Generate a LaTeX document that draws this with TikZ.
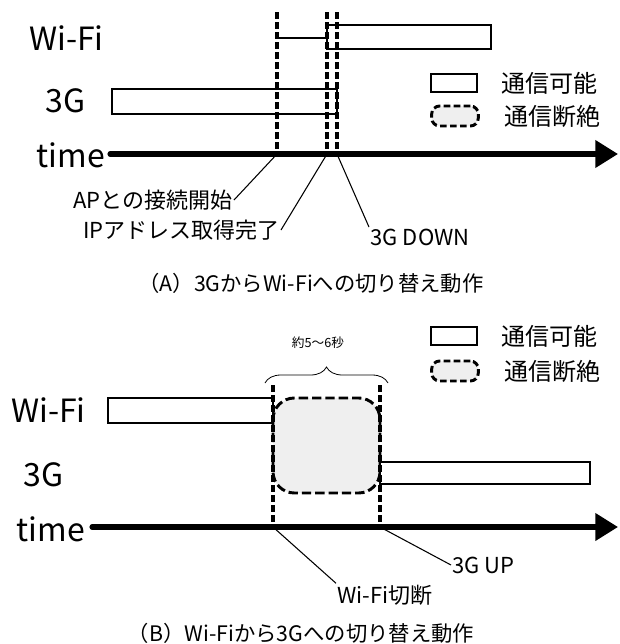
\documentclass[tikz,border=0pt]{standalone}
\usepackage{fontspec}
\setmainfont{Noto Sans CJK JP}
\usetikzlibrary{arrows.meta, positioning, calc, decorations.pathreplacing}
\definecolor{lossgray}{HTML}{EFEFEF}
\tikzset{
    onbar/.style={draw=black, line width=1.4pt, fill=white},
    offbar/.style={draw=black, line width=2.2pt, dash pattern=on 7pt off 3pt, fill=lossgray, rounded corners=16pt},
    eventline/.style={draw=black, line width=2.4pt, dash pattern=on 5pt off 2.5pt},
    timeaxis/.style={line width=3.8pt, line cap=round, -{Triangle[length=17pt, width=20pt]}},
    leader/.style={draw=black, line width=0.8pt},
    rowlabel/.style={inner sep=0pt, font=\fontsize{24}{28}\selectfont},
    keylabel/.style={inner sep=0pt, font=\fontsize{18}{21}\selectfont},
    eventlabel/.style={inner sep=1pt, font=\fontsize{16.5}{19}\selectfont},
    caption/.style={inner sep=0pt, font=\fontsize{16}{19}\selectfont},
    keyon/.style={rectangle, draw=black, line width=1.4pt, minimum width=34pt, minimum height=14pt, inner sep=0pt},
    keyoff/.style={rectangle, draw=black, line width=2.2pt, dash pattern=on 5pt off 2.5pt, fill=lossgray, rounded corners=6pt, minimum width=35pt, minimum height=15pt, inner sep=0pt}
}

\begin{document}
\begin{tikzpicture}[x=0.75pt, y=-0.75pt, node distance=18pt]
    \useasboundingbox (0,0) rectangle (619,644);

    % (A) 3G -> Wi-Fi
    \node[rowlabel, anchor=east] (wifiA) at (104,38) {Wi-Fi};
    \node[rowlabel, anchor=east] (threegA) at (86,101) {3G};
    \node[rowlabel, anchor=east] (timeA) at (105,155) {time};

    \draw[onbar] (112,89) rectangle (337,114);
    \draw[onbar] (327,25) rectangle (491,49);
    \coordinate (assoc) at (277,38);
    \coordinate (assocEnd) at (327,38);
    \draw[leader] (assoc) -- (assocEnd);

    \coordinate (tA0) at (110,154);
    \coordinate (tA1) at (618,154);
    \draw[timeaxis] (tA0) -- (tA1);

    \foreach \x/\n in {277/ap, 327/ip, 337/down} {
        \coordinate (\n-top) at (\x,12);
        \coordinate (\n) at (\x,154);
        \draw[eventline] (\n-top) -- (\n);
    }

    \node[keyon] (keyonA) at (454,83) {};
    \node[keylabel, right=18pt of keyonA] (keyonAtxt) {通信可能};
    \node[keyoff] (keyoffA) at (455,116) {};
    \node[keylabel, right=18pt of keyoffA] (keyoffAtxt) {通信断絶};

    \node[eventlabel, anchor=east] (apLbl) at (234,200) {APとの接続開始};
    \node[eventlabel, anchor=east] (ipLbl) at (281,230) {IPアドレス取得完了};
    \node[eventlabel, anchor=west] (downLbl) at (369,237) {3G DOWN};
    \draw[leader] (ap) -- (apLbl.east);
    \draw[leader] (ip) -- (ipLbl.east);
    \draw[leader] (down) -- (downLbl.north west);

    \node[caption] (capA) at (311,283) {（A）3GからWi-Fiへの切り替え動作};

    % (B) Wi-Fi -> 3G
    \node[rowlabel, anchor=east] (wifiB) at (86,410) {Wi-Fi};
    \node[rowlabel, anchor=east] (threegB) at (64,475) {3G};
    \node[rowlabel, anchor=east] (timeB) at (85,529) {time};

    \draw[offbar] (273,398) rectangle (380,493);
    \draw[onbar] (108,398) rectangle (273,423);
    \draw[onbar] (380,462) rectangle (590,484);

    \coordinate (tB0) at (92,527);
    \coordinate (tB1) at (618,527);
    \draw[timeaxis] (tB0) -- (tB1);

    \foreach \x/\n in {273/cut, 380/up} {
        \coordinate (\n-top) at (\x,385);
        \coordinate (\n) at (\x,527);
        \draw[eventline] (\n-top) -- (\n);
    }

    \coordinate (braceL) at (265,383);
    \coordinate (braceR) at (388,383);
    \draw[decorate, decoration={brace, amplitude=12pt}, line width=0.6pt] (braceL) -- (braceR);
    \node[inner sep=0pt, font=\fontsize{9.5}{11}\selectfont] (gapLbl) at (318,343) {約5～6秒};

    \node[keyon] (keyonB) at (454,336) {};
    \node[keylabel, right=18pt of keyonB] (keyonBtxt) {通信可能};
    \node[keyoff] (keyoffB) at (455,371) {};
    \node[keylabel, right=18pt of keyoffB] (keyoffBtxt) {通信断絶};

    \node[eventlabel, anchor=west] (cutLbl) at (336,595) {Wi-Fi切断};
    \node[eventlabel, anchor=west] (upLbl) at (451,565) {3G UP};
    \draw[leader] (cut) -- (cutLbl.north west);
    \draw[leader] (up) -- (upLbl.west);

    \node[caption] (capB) at (301,633) {（B）Wi-Fiから3Gへの切り替え動作};
\end{tikzpicture}
\end{document}
